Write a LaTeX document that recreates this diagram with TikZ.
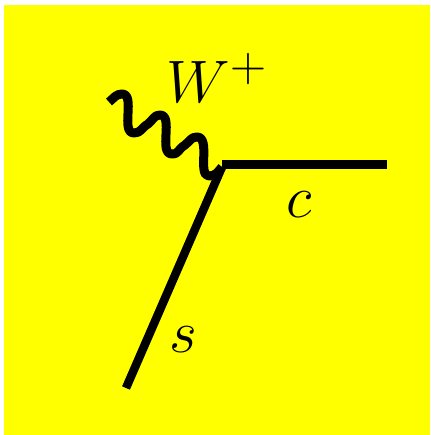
\documentclass[tikz,border=0pt]{standalone}
\definecolor{bgyellow}{RGB}{255,255,0}
\tikzset{
    particle/.style={draw, line width=8.5pt},
    boson/.style={draw, line width=9pt, line join=round},
    label/.style={inner sep=0pt, scale=2.41, font=\Huge}
}
\begin{document}
\begin{tikzpicture}[x=1pt, y=-1pt]
    \useasboundingbox (0,0) rectangle (430,435);
    \fill[bgyellow] (4,5) rectangle (430,435);
    \coordinate (vertex) at (222,167);
    \coordinate (wstart) at (109,102);
    \coordinate (cend) at (387,164.5);
    \coordinate (send) at (126,388);
    \draw[boson] (wstart) .. controls +(5,-4) and +(-6,0) .. (122,94)
        .. controls +(14,0) and +(-14,0) .. (134,133)
        .. controls +(7,0) and +(-7,4) .. (148,124)
        .. controls +(5,-4) and +(-6,0) .. (160,115)
        .. controls +(14,0) and +(-14,0) .. (172,154)
        .. controls +(7,0) and +(-7,4) .. (185,145)
        .. controls +(5,-4) and +(-6,0) .. (197,137)
        .. controls +(14,0) and +(-12,0) .. (209,176)
        .. controls +(6,0) and +(-5,6) .. (vertex);
    \draw[particle] (vertex |- cend) -- (cend);
    \draw[particle] (vertex) -- (send);
    \node[label] (wlabel) at (217,78) {$W^+$};
    \node[label] (clabel) at (299,205) {$c$};
    \node[label] (slabel) at (183,340) {$s$};
\end{tikzpicture}
\end{document}
